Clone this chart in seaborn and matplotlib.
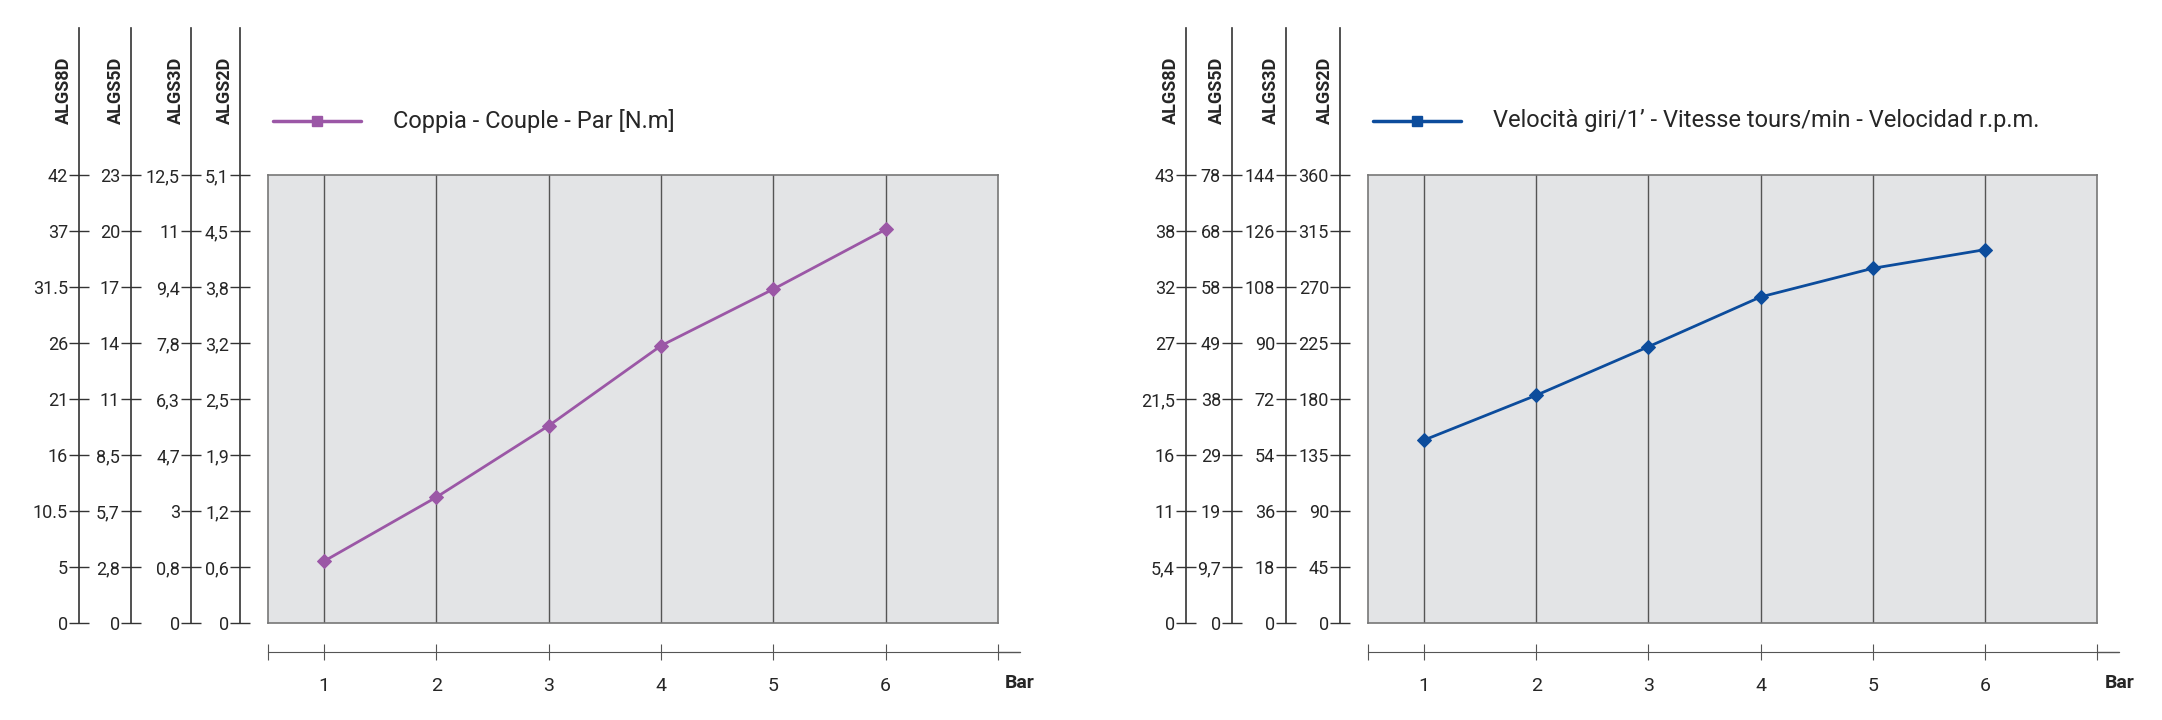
import numpy as np
import pandas as pd
import matplotlib
matplotlib.use('Agg')
import matplotlib.pyplot as plt
import seaborn as sns

sns.set_style('white')
plt.rcParams['font.family'] = ['Roboto', 'DejaVu Sans']

bar = [1, 2, 3, 4, 5, 6]
# torque read in ALGS8D units, speed in ALGS2D units
torque = [5.8, 11.8, 18.5, 26.0, 31.3, 36.9]
speed = [147, 183, 222, 262, 285, 300]

models = ['ALGS8D', 'ALGS5D', 'ALGS3D', 'ALGS2D']
torque_ticks = [
    ['0', '5', '10.5', '16', '21', '26', '31.5', '37', '42'],
    ['0', '2,8', '5,7', '8,5', '11', '14', '17', '20', '23'],
    ['0', '0,8', '3', '4,7', '6,3', '7,8', '9,4', '11', '12,5'],
    ['0', '0,6', '1,2', '1,9', '2,5', '3,2', '3,8', '4,5', '5,1'],
]
speed_ticks = [
    ['0', '5,4', '11', '16', '21,5', '27', '32', '38', '43'],
    ['0', '9,7', '19', '29', '38', '49', '58', '68', '78'],
    ['0', '18', '36', '54', '72', '90', '108', '126', '144'],
    ['0', '45', '90', '135', '180', '225', '270', '315', '360'],
]

W, H = 2162, 720
fig = plt.figure(figsize=(W / 100, H / 100), dpi=100)


def px(x0, y0, x1, y1):
    # pixel box (top-left origin) -> figure fraction rect
    return [x0 / W, 1 - y1 / H, (x1 - x0) / W, (y1 - y0) / H]


def panel(spines_x, box_x0, box_x1, ticks, values, ymax, color, label, bar_x):
    box_top, box_bot = 175, 623
    ax = fig.add_axes(px(box_x0, box_top, box_x1, box_bot))
    ax.set_facecolor('#e3e4e6')
    df = pd.DataFrame({'bar': bar, 'v': values})
    sns.lineplot(data=df, x='bar', y='v', ax=ax, color=color, lw=2,
                 marker='D', markersize=7, markeredgecolor=color)
    for x in bar:
        ax.axvline(x, color='#555555', lw=1, zorder=0.5)
    ax.set_xlim(0.5, 7)
    ax.set_ylim(0, ymax)
    ax.set_xticks([]); ax.set_yticks([])
    ax.set_xlabel(''); ax.set_ylabel('')
    for s in ax.spines.values():
        s.set_color('#777777'); s.set_linewidth(1.2)

    # stacked y axes
    top_px = 28
    ytop = 8 * (box_bot - top_px) / (box_bot - box_top)
    for sx, labels, name in zip(spines_x, ticks, models):
        sa = fig.add_axes(px(sx, top_px, sx + 1, box_bot))
        sa.patch.set_visible(False)
        for k in ['top', 'right', 'bottom']:
            sa.spines[k].set_visible(False)
        sa.spines['left'].set_color('#333333')
        sa.spines['left'].set_linewidth(1.2)
        sa.set_ylim(0, ytop)
        sa.set_xticks([])
        sa.set_yticks(range(9))
        sa.set_yticklabels(labels)
        sa.tick_params(axis='y', left=True, direction='inout', length=14, width=1,
                       color='#333333', labelsize=13, pad=1)
        fig.text((sx - 15) / W, 1 - 124 / H, name, rotation=90, ha='center',
                 va='bottom', fontsize=13, fontweight='bold')

    # bottom bar axis
    ba = fig.add_axes(px(box_x0, 640, box_x1, 652))
    ba.patch.set_visible(False)
    for k in ['top', 'right', 'left']:
        ba.spines[k].set_visible(False)
    ba.spines['bottom'].set_color('#555555')
    ba.set_xlim(0.5, 7)
    ba.set_yticks([])
    ba.set_xticks([0.5] + bar + [7])
    ba.set_xticklabels([''] + [str(b) for b in bar] + [''])
    ba.tick_params(axis='x', bottom=True, direction='inout', length=12,
                   color='#555555', labelsize=14, pad=12)
    fig.add_artist(plt.Line2D([box_x1 / W, (box_x1 + 22) / W], [1 - 652 / H] * 2,
                              color='#555555', lw=1))
    fig.text(bar_x / W, 1 - 683 / H, 'Bar', ha='center', va='center',
             fontsize=14, fontweight='bold')

    # legend
    lx0 = box_x0 + 5
    fig.add_artist(plt.Line2D([lx0 / W, (lx0 + 88) / W], [1 - 121 / H] * 2,
                              color=color, lw=2.5))
    fig.add_artist(plt.Line2D([(lx0 + 44) / W], [1 - 121 / H], marker='s',
                              color=color, markersize=7))
    fig.text((lx0 + 120) / W, 1 - 121 / H, label, va='center', fontsize=17)


panel([79, 131, 191, 240], 268, 998, torque_ticks, torque, 42,
      '#9b57a6', 'Coppia - Couple - Par [N.m]', 1020)
panel([1186, 1232, 1286, 1340], 1368, 2097, speed_ticks, speed, 360,
      '#0c4c9c', 'Velocità giri/1\u2019 - Vitesse tours/min - Velocidad r.p.m.', 2120)

fig.savefig('out.png', dpi=100)
